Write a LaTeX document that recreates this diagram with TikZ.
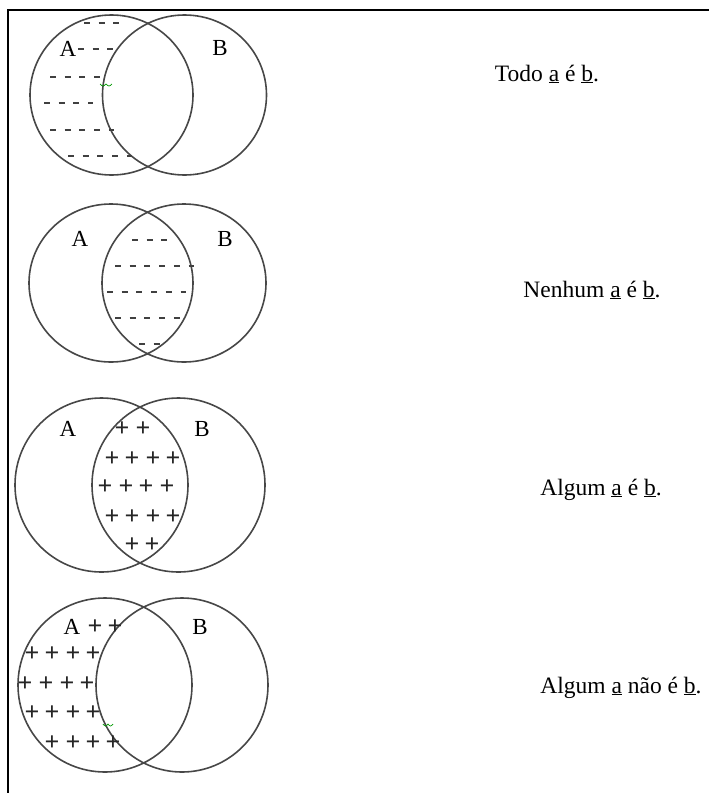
\documentclass[tikz,border=0pt]{standalone}
\usepackage{fontspec}
\setmainfont{Liberation Serif}
\begin{document}
\begin{tikzpicture}[x=1pt, y=-1pt,
    ring/.style={draw=black!72, line width=1.6pt},
    hatch/.style={draw=black!75, line width=1.8pt, dash pattern=on 6pt off 8.7pt},
    lbl/.style={inner sep=0pt, font=\fontsize{23}{26}\selectfont},
    plus/.style={inner sep=0pt, text=black!85, font=\fontsize{26}{29}\selectfont\bfseries},
    sentence/.style={anchor=base, inner sep=0pt, font=\fontsize{23.5}{27}\selectfont},
    squiggle/.style={draw=green!60!black, line width=0.7pt}]
    \useasboundingbox (0,0) rectangle (709,793);
    \draw[line width=1.6pt] (709,10) -- (8,10) -- (8,793);

    % Todo a e b
    \draw[ring] (111.5,95) ellipse [x radius=81.5, y radius=80];
    \draw[ring] (184.5,95) ellipse [x radius=82, y radius=80];
    \node[lbl] (A1) at (68,49) {A};
    \node[lbl] (B1) at (220,48) {B};
    \draw[hatch] (84,23) -- (122,23);
    \draw[hatch] (78,49) -- (115,49);
    \draw[hatch] (50,77) -- (100,77);
    \draw[hatch] (44,103) -- (93,103);
    \draw[hatch] (50,130) -- (114,130);
    \draw[hatch] (68,156) -- (132,156);
    \draw[squiggle] (100,84) sin (103,86) cos (106,84) sin (109,86) cos (112,84);
    \node[sentence] (s1) at (547,81) {Todo \underline{a} é \underline{b}.};

    % Nenhum a e b
    \draw[ring] (111,283) ellipse [x radius=82, y radius=79];
    \draw[ring] (184,283) ellipse [x radius=82, y radius=79];
    \node[lbl] (A2) at (80,239) {A};
    \node[lbl] (B2) at (225,239) {B};
    \draw[hatch] (132,240) -- (168,240);
    \draw[hatch] (115,266) -- (194,266);
    \draw[hatch] (107,292) -- (186,292);
    \draw[hatch] (115,318) -- (180,318);
    \draw[hatch] (139,344) -- (160,344);
    \node[sentence] (s2) at (592,297) {Nenhum \underline{a} é \underline{b}.};

    % Algum a e b
    \draw[ring] (101.5,485) ellipse [x radius=86.5, y radius=87];
    \draw[ring] (178.5,485) ellipse [x radius=86.5, y radius=87];
    \node[lbl] (A3) at (68,429) {A};
    \node[lbl] (B3) at (202,429) {B};
    \foreach \y/\xs in {429/{122,143}, 459/{112,132,153,173}, 487/{105,126,146,167},
                        517/{112,132,153,173}, 545/{132,152}}
        \foreach \x in \xs
            \node[plus] (p3-\x-\y) at (\x,\y) {+};
    \node[sentence] (s3) at (601,495) {Algum \underline{a} é \underline{b}.};

    % Algum a nao e b
    \draw[ring] (105,685) ellipse [x radius=87, y radius=87];
    \draw[ring] (182,685) ellipse [x radius=86, y radius=87];
    \node[lbl] (A4) at (72,627) {A};
    \node[lbl] (B4) at (200,627) {B};
    \foreach \y/\xs in {627/{95,115}, 654/{32,52,73,93}, 684/{25,46,67,87},
                        713/{32,52,73,93}, 743/{52,73,93,113}}
        \foreach \x in \xs
            \node[plus] (p4-\x-\y) at (\x,\y) {+};
    \draw[squiggle] (103,724) sin (105.5,726) cos (108,724) sin (110.5,726) cos (113,724);
    \node[sentence] (s4) at (621,693) {Algum \underline{a} não é \underline{b}.};
\end{tikzpicture}
\end{document}
